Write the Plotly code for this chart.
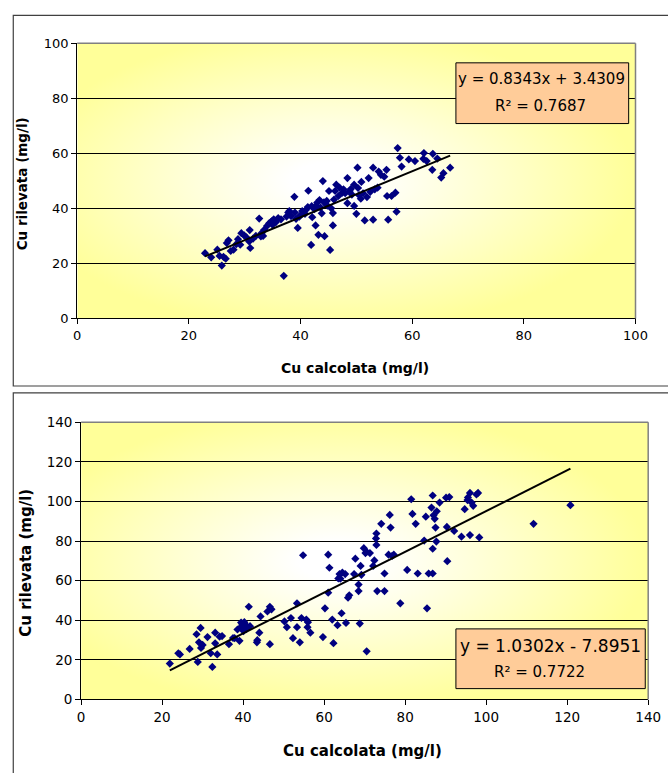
import base64
import numpy as np
import plotly.graph_objects as go

# ---------------- data ----------------
top_calc = [22.9, 24.0, 25.1, 25.5, 25.9, 26.2, 26.6, 26.8, 27.1, 28.0, 28.8, 29.2, 29.4, 29.9, 30.3,
            30.9, 31.0, 30.8, 32.0, 32.6, 32.9, 33.3, 33.5, 34.0, 34.4, 34.8, 35.2, 35.6, 36.0, 37.0,
            37.5, 38.0, 38.3, 38.9, 39.0, 39.5, 39.8, 40.3, 40.8, 41.3, 41.4, 41.9, 42.1, 42.5, 42.7,
            43.0, 43.2, 43.6, 44.0, 43.8, 44.3, 44.7, 45.1, 45.3, 45.8, 45.8, 46.2, 46.4, 47.5, 47.7,
            48.4, 48.4, 48.8, 49.6, 49.6, 50.0, 50.2, 50.3, 50.5, 50.9, 51.5, 51.9, 52.2, 53.0, 53.0,
            53.3, 54.0, 54.4, 55.4, 55.5, 55.7, 56.3, 57.0, 57.2, 57.4, 57.8, 58.1, 59.4, 60.5, 62.1,
            62.6, 63.6, 63.7, 64.5, 65.2, 65.6, 66.8, 36.5, 37.8, 40.0, 41.0, 42.0, 42.8, 43.4, 44.2,
            44.8, 46.0, 47.0, 48.0, 49.0, 49.2, 51.2, 52.5, 53.8, 31.5, 27.5, 33.0, 35.0, 39.2, 45.5,
            62.0, 28.5, 46.8, 50.8, 55.0]
top_obs = [23.7, 22.2, 25.0, 22.7, 19.2, 22.4, 21.7, 27.4, 28.4, 25.0, 28.8, 26.8, 31.0, 30.2, 29.5,
           32.1, 25.6, 28.0, 30.0, 36.3, 29.8, 30.0, 32.2, 33.6, 34.6, 35.3, 36.0, 35.0, 36.5, 15.5,
           37.0, 39.0, 37.2, 44.2, 38.5, 32.9, 37.0, 39.0, 38.0, 40.5, 46.4, 26.7, 36.8, 39.7, 33.8,
           42.1, 30.4, 40.3, 49.9, 38.2, 29.9, 42.7, 46.3, 24.9, 33.8, 38.3, 46.3, 48.6, 45.7, 46.9,
           51.0, 41.9, 46.3, 48.6, 40.9, 38.0, 54.8, 47.4, 44.8, 49.6, 35.6, 44.1, 51.0, 54.8, 35.9,
           46.9, 53.4, 52.2, 54.0, 44.5, 35.9, 44.5, 45.7, 38.8, 61.9, 58.4, 55.2, 57.8, 57.2, 60.1,
           57.2, 54.0, 59.8, 58.1, 51.2, 52.8, 54.8, 36.0, 38.5, 37.5, 39.5, 40.8, 41.0, 43.0, 42.2,
           41.0, 43.2, 47.5, 45.5, 47.0, 45.0, 45.5, 46.0, 47.5, 29.0, 24.5, 31.0, 34.0, 36.2, 40.0,
           58.0, 27.0, 44.5, 43.5, 51.5]

bot_calc = [21.9, 24.0, 24.4, 26.8, 28.5, 28.8, 29.1, 29.5, 29.6, 31.2, 32.0, 32.4, 33.1, 33.1, 33.6,
            34.2, 36.5, 37.9, 38.6, 39.1, 39.4, 39.8, 40.1, 40.7, 41.0, 41.4, 41.7, 43.4, 43.5, 44.0,
            44.3, 46.0, 46.6, 46.6, 50.2, 50.8, 51.8, 52.3, 53.3, 53.3, 54.0, 54.4, 54.8, 55.6, 55.9,
            56.6, 59.7, 60.2, 61.0, 61.0, 61.3, 62.0, 62.3, 63.3, 63.5, 63.8, 64.3, 64.5, 65.2, 65.4,
            65.9, 66.2, 67.4, 67.7, 68.5, 68.5, 68.8, 69.0, 69.2, 69.8, 70.2, 70.5, 71.3, 72.1, 72.4,
            72.8, 72.9, 72.9, 73.1, 74.1, 74.9, 74.9, 76.2, 76.4, 75.9, 77.2, 78.8, 80.5, 81.5, 81.8,
            82.6, 83.1, 84.7, 85.1, 85.4, 85.8, 86.5, 86.8, 86.8, 86.8, 87.3, 87.5, 87.7, 87.8, 88.5,
            90.1, 90.4, 90.3, 90.9, 92.1, 93.9, 94.7, 95.4, 96.0, 96.0, 96.4, 96.8, 97.6, 98.0, 98.3,
            111.7, 120.8, 30.0, 34.8, 37.5, 39.5, 40.3, 40.8, 47.0, 56.0, 64.0, 70.5, 76.8, 87.0, 95.5]
bot_obs = [18.1, 23.3, 22.7, 25.5, 32.9, 18.9, 28.8, 36.1, 26.0, 31.5, 23.3, 16.4, 28.3, 33.7, 22.7,
           31.7, 27.9, 30.9, 35.3, 29.6, 36.5, 38.1, 34.5, 37.5, 36.1, 46.8, 37.0, 28.8, 29.9, 33.7,
           41.9, 44.4, 46.8, 27.9, 39.4, 36.5, 41.1, 30.9, 48.5, 36.5, 28.8, 41.1, 72.8, 40.3, 36.5,
           33.7, 31.5, 46.0, 73.1, 53.9, 66.5, 40.3, 28.4, 37.5, 61.1, 63.3, 43.5, 64.1, 63.3, 38.6,
           51.4, 52.6, 63.3, 71.1, 58.0, 54.7, 38.3, 67.4, 62.9, 76.4, 73.9, 24.3, 73.9, 67.4, 70.2,
           81.3, 83.8, 78.0, 54.7, 88.7, 63.6, 54.7, 93.2, 86.8, 73.1, 73.1, 48.5, 65.4, 101.1, 93.7,
           88.7, 63.6, 80.2, 92.3, 46.0, 63.6, 96.9, 103.0, 76.1, 63.6, 91.2, 86.8, 79.7, 95.0, 99.4,
           101.9, 69.8, 87.1, 102.2, 85.1, 82.2, 96.1, 100.7, 83.0, 104.3, 99.4, 97.8, 103.5, 104.3, 81.8,
           88.7, 98.1, 27.5, 32.0, 31.0, 38.8, 39.0, 35.5, 45.5, 39.0, 61.0, 74.5, 72.5, 93.0, 102.0]

top_slope, top_intercept, top_r2 = 0.8343, 3.4309, 0.7687
bot_slope, bot_intercept, bot_r2 = 1.0302, -7.8951, 0.7722

top_ticks = [0, 20, 40, 60, 80, 100]
bot_ticks = [0, 20, 40, 60, 80, 100, 120, 140]

x_title = "Cu calcolata (mg/l)"
y_title = "Cu rilevata (mg/l)"

# ---------------- helpers ----------------
W, H = 668, 773
def px(v):
    return v / W
def py(v):
    return 1 - v / H

FONT = "DejaVu Sans"
NAVY = "#000080"

svg = ("<svg xmlns='http://www.w3.org/2000/svg' width='600' height='300' viewBox='0 0 600 300' "
       "preserveAspectRatio='none'><defs><radialGradient id='g' cx='0.45' cy='0.5' r='0.55'>"
       "<stop offset='0' stop-color='#FFFFFF'/><stop offset='0.12' stop-color='#FFFFFF'/>"
       "<stop offset='1' stop-color='#FFFF99'/></radialGradient></defs>"
       "<rect x='0' y='0' width='600' height='300' fill='url(#g)'/></svg>")
grad_src = "data:image/svg+xml;base64," + base64.b64encode(svg.encode()).decode()

fig = go.Figure()

# top panel
fig.add_trace(go.Scatter(x=top_calc, y=top_obs, mode="markers", xaxis="x", yaxis="y",
                         marker=dict(symbol="diamond", size=6.3, color=NAVY, line=dict(width=0)),
                         hoverinfo="skip"))
tx = np.array([min(top_calc), max(top_calc)])
fig.add_trace(go.Scatter(x=tx, y=top_slope * tx + top_intercept, mode="lines", xaxis="x", yaxis="y",
                         line=dict(color="black", width=2), hoverinfo="skip"))
# bottom panel
fig.add_trace(go.Scatter(x=bot_calc, y=bot_obs, mode="markers", xaxis="x2", yaxis="y2",
                         marker=dict(symbol="diamond", size=6.3, color=NAVY, line=dict(width=0)),
                         hoverinfo="skip"))
bx = np.array([min(bot_calc), max(bot_calc)])
fig.add_trace(go.Scatter(x=bx, y=bot_slope * bx + bot_intercept, mode="lines", xaxis="x2", yaxis="y2",
                         line=dict(color="black", width=2), hoverinfo="skip"))

def xax(domain, anchor, ticks, size):
    return dict(domain=domain, anchor=anchor, range=[ticks[0], ticks[-1]], tickvals=ticks,
                showgrid=False, zeroline=False, showline=True, linecolor="black", linewidth=1,
                ticks="outside", ticklen=5, tickcolor="black",
                tickfont=dict(family=FONT, size=size, color="black"), fixedrange=True)

def yax(domain, anchor, ticks, size):
    return dict(domain=domain, anchor=anchor, range=[ticks[0], ticks[-1]], tickvals=ticks,
                showgrid=True, gridcolor="black", gridwidth=1, zeroline=False,
                showline=True, linecolor="black", linewidth=1,
                ticks="outside", ticklen=5, tickcolor="black",
                tickfont=dict(family=FONT, size=size, color="black"), fixedrange=True)

shapes = [
    # outer frames
    dict(type="rect", xref="paper", yref="paper", x0=px(9.5), x1=px(700), y0=py(386), y1=py(7.5),
         line=dict(color="#404040", width=1.2), layer="below"),
    dict(type="rect", xref="paper", yref="paper", x0=px(9.5), x1=px(700), y0=py(800), y1=py(393),
         line=dict(color="#404040", width=1.2), layer="below"),
    # plot-area grey border (top & right)
    dict(type="line", xref="x domain", yref="y domain", x0=0, x1=1, y0=1, y1=1,
         line=dict(color="#808080", width=1.5), layer="above"),
    dict(type="line", xref="x domain", yref="y domain", x0=1, x1=1, y0=0, y1=1,
         line=dict(color="#808080", width=1.5), layer="above"),
    dict(type="line", xref="x2 domain", yref="y2 domain", x0=0, x1=1, y0=1, y1=1,
         line=dict(color="#808080", width=1.5), layer="above"),
    dict(type="line", xref="x2 domain", yref="y2 domain", x0=1, x1=1, y0=0, y1=1,
         line=dict(color="#808080", width=1.5), layer="above"),
    # equation boxes
    dict(type="rect", xref="paper", yref="paper", x0=px(463), x1=px(640), y0=py(118), y1=py(56),
         fillcolor="#FFCC99", line=dict(color="black", width=1), layer="above"),
    dict(type="rect", xref="paper", yref="paper", x0=px(463), x1=px(657), y0=py(695), y1=py(634),
         fillcolor="#FFCC99", line=dict(color="black", width=1), layer="above"),
]

def txt(text, x, y, size, bold=False, angle=0):
    return dict(text=text, xref="paper", yref="paper",
                x=px(x), y=py(y), xanchor="center", yanchor="middle", showarrow=False,
                textangle=angle,
                font=dict(family=FONT, size=size, color="black",
                          weight="bold" if bold else "normal"))

annotations = [
    txt("y = %.4fx + %.4f" % (top_slope, top_intercept), 550.5, 72.5, 15),
    txt("R\u00b2 = %.4f" % top_r2, 550, 100, 15),
    txt("y = %.4fx - %.4f" % (bot_slope, abs(bot_intercept)), 560, 651, 17),
    txt("R\u00b2 = %.4f" % bot_r2, 549, 678, 15),
    txt(x_title, 360, 368, 14, bold=True),
    txt(y_title, 18.5, 180, 13.5, bold=True, angle=-90),
    txt(x_title, 367.5, 759, 15, bold=True),
    txt(y_title, 23, 566, 15, bold=True, angle=-90),
]

images = [
    dict(source=grad_src, xref="x", yref="y", x=0, y=100, sizex=100, sizey=100,
         sizing="stretch", xanchor="left", yanchor="top", layer="below"),
    dict(source=grad_src, xref="x2", yref="y2", x=0, y=140, sizex=140, sizey=140,
         sizing="stretch", xanchor="left", yanchor="top", layer="below"),
]

fig.update_layout(
    width=W, height=H, margin=dict(l=0, r=0, t=0, b=0), autosize=False,
    paper_bgcolor="white", plot_bgcolor="rgba(0,0,0,0)", showlegend=False,
    xaxis=xax([px(75), px(647)], "y", top_ticks, 13),
    yaxis=yax([py(317), py(36)], "x", top_ticks, 13),
    xaxis2=xax([px(79), px(660)], "y2", bot_ticks, 13.5),
    yaxis2=yax([py(706), py(423)], "x2", bot_ticks, 13.5),
    shapes=shapes, annotations=annotations, images=images,
)

fig.write_html("out.html", config={"displayModeBar": False, "staticPlot": True},
               post_script="document.body.style.margin='0';document.body.style.overflow='hidden';")
